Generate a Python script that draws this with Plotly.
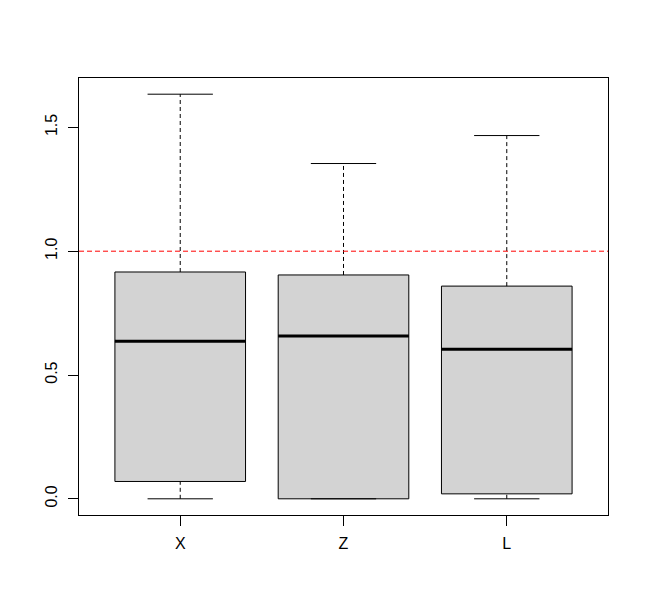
import plotly.graph_objects as go

categories = ["X", "Z", "L"]
lower_whisker = [0.0, 0.0, 0.0]
q1_values = [0.07, 0.0, 0.02]
medians = [0.636, 0.657, 0.604]
q3_values = [0.916, 0.904, 0.859]
upper_whisker = [1.634, 1.354, 1.467]
reference_level = 1.0
y_tick_values = [0.0, 0.5, 1.0, 1.5]

positions = list(range(1, len(categories) + 1))
box_w = 0.8
cap_w = 0.4

fig = go.Figure()

for i, p in enumerate(positions):
    # dashed whiskers
    for a, b in [(q3_values[i], upper_whisker[i]), (lower_whisker[i], q1_values[i])]:
        fig.add_trace(go.Scatter(x=[p, p], y=[a, b], mode="lines",
                                 line=dict(color="black", width=1, dash="4px,3px"),
                                 showlegend=False, hoverinfo="skip"))
    # caps
    for v in [upper_whisker[i], lower_whisker[i]]:
        fig.add_trace(go.Scatter(x=[p - cap_w / 2, p + cap_w / 2], y=[v, v], mode="lines",
                                 line=dict(color="black", width=1),
                                 showlegend=False, hoverinfo="skip"))
    fig.add_trace(go.Box(x=[p], q1=[q1_values[i]], median=[medians[i]], q3=[q3_values[i]],
                         lowerfence=[q1_values[i]], upperfence=[q3_values[i]],
                         width=box_w, fillcolor="#d3d3d3",
                         line=dict(color="black", width=1),
                         whiskerwidth=0, showlegend=False, boxpoints=False))
    fig.add_trace(go.Scatter(x=[p - box_w / 2, p + box_w / 2], y=[medians[i], medians[i]],
                             mode="lines", line=dict(color="black", width=3),
                             showlegend=False, hoverinfo="skip"))

fig.add_hline(y=reference_level, line=dict(color="#ff0000", width=1, dash="5px,3px"))

fig.update_layout(
    width=641, height=605,
    margin=dict(l=71, r=41, t=70, b=98, autoexpand=False),
    paper_bgcolor="white", plot_bgcolor="white",
    font=dict(family="Liberation Sans, Arial, sans-serif", size=16, color="black"),
)
fig.update_xaxes(range=[0.38, 3.62], tickvals=positions, ticktext=categories,
                 ticks="outside", ticklen=10, tickcolor="black",
                 showline=True, linecolor="black", linewidth=1, mirror=True,
                 showgrid=False, zeroline=False, tickfont=dict(size=16),
                 ticklabelstandoff=4)
fig.update_yaxes(range=[-0.0654, 1.6994], tickvals=y_tick_values,
                 ticktext=[f"{v:.1f}" for v in y_tick_values],
                 ticks="outside", ticklen=10, tickcolor="black", tickangle=-90,
                 showline=True, linecolor="black", linewidth=1, mirror=True,
                 showgrid=False, zeroline=False, tickfont=dict(size=16),
                 ticklabelstandoff=5)

fig.write_html("out.html")
